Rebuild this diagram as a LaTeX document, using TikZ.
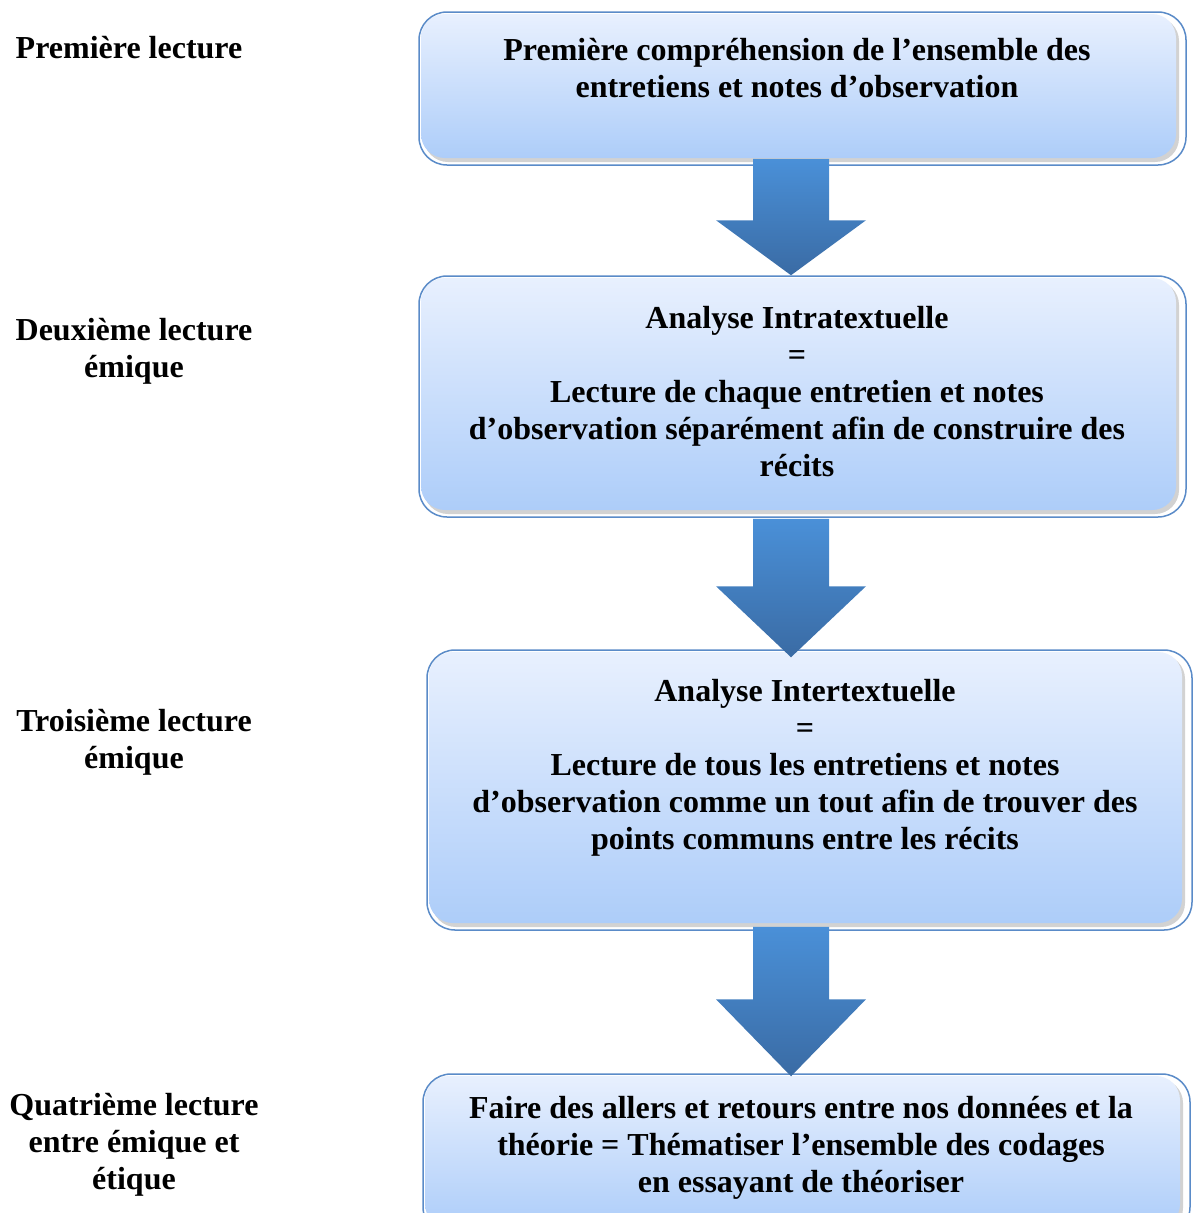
\documentclass[tikz,border=0pt]{standalone}
\usepackage{fontspec}
\setmainfont{Liberation Serif}
\usetikzlibrary{calc}

\definecolor{boxline}{HTML}{5A8BC8}
\definecolor{boxtop}{HTML}{E8F0FE}
\definecolor{boxbottom}{HTML}{ADCDF9}
\definecolor{boxshadow}{HTML}{D2D2D2}
\definecolor{arrtop}{HTML}{4A90D8}
\definecolor{arrbottom}{HTML}{3A6BA4}

% block arrow: from, to, head length
\newcommand\blockarrow[3]{%
  \path (#1) coordinate (as) (#2) coordinate (ae);
  \shade[top color=arrtop, bottom color=arrbottom]
    ($(as)+(-38,0)$) -- ($(as)+(38,0)$) -- ($(ae)+(38,-#3)$) -- ($(ae)+(75,-#3)$)
    -- (ae) -- ($(ae)+(-75,-#3)$) -- ($(ae)+(-38,-#3)$) -- cycle;
}

\begin{document}
\begin{tikzpicture}[x=1pt, y=-1pt,
  txt/.style = {align=center, font=\bfseries\fontsize{32}{37}\selectfont},
  box/.style = {draw=boxline, line width=1.5pt, rounded corners=28pt, fill=white, inner sep=0pt,
    path picture={
      \fill[boxshadow, rounded corners=24pt]
        ([xshift=5pt,yshift=3pt]path picture bounding box.south west) rectangle
        ([xshift=-7pt,yshift=-5pt]path picture bounding box.north east);
      \shade[top color=boxtop, bottom color=boxbottom, rounded corners=24pt]
        ([xshift=2pt,yshift=7pt]path picture bounding box.south west) rectangle
        ([xshift=-10pt,yshift=-2pt]path picture bounding box.north east);
    }}]
  \useasboundingbox (0,0) rectangle (1193,1213);
  \clip (0,0) rectangle (1193,1213);

  % boxes
  \node[box, minimum width=767pt, minimum height=153pt] (b1) at (802.5,88.5) {};
  \node[box, minimum width=767pt, minimum height=241pt] (b2) at (802.5,396.5) {};
  \node[box, minimum width=765pt, minimum height=280pt] (b3) at (809.5,790) {};
  \node[box, minimum width=767pt, minimum height=161pt] (b4) at (806.5,1154.5) {};

  % arrows
  \coordinate (ax) at (791,0);
  \blockarrow{$(b1.south -| ax)+(0,-7)$}{b2.north -| ax}{55}
  \blockarrow{$(b2.south -| ax)+(0,1)$}{$(b3.north -| ax)+(0,8)$}{71}
  \blockarrow{$(b3.south -| ax)+(0,-4)$}{$(b4.north -| ax)+(0,3)$}{77}

  % box texts
  \node[txt] (t1) at (797,68) {Première compréhension de l’ensemble des\\entretiens et notes d’observation};
  \node[txt] (t2) at (797,391.5) {Analyse Intratextuelle\\=\\Lecture de chaque entretien et notes\\d’observation séparément afin de construire des\\récits};
  \node[txt] (t3) at (805,768) {Analyse Intertextuelle\\=\\Lecture de tous les entretiens et notes\\d’observation comme un tout afin de trouver des\\points communs entre les récits};
  \node[txt] (t4) at (801,1148) {Faire des allers et retours entre nos données et la\\théorie = Thématiser l’ensemble des codages\\en essayant de théoriser};

  % left labels
  \node[txt] (l1) at (129,48) {Première lecture};
  \node[txt] (l2) at (134,351.5) {Deuxième lecture\\émique};
  \node[txt] (l3) at (134,742.5) {Troisième lecture\\émique};
  \node[txt] (l4) at (134,1145) {Quatrième lecture\\entre émique et\\étique};
\end{tikzpicture}
\end{document}
